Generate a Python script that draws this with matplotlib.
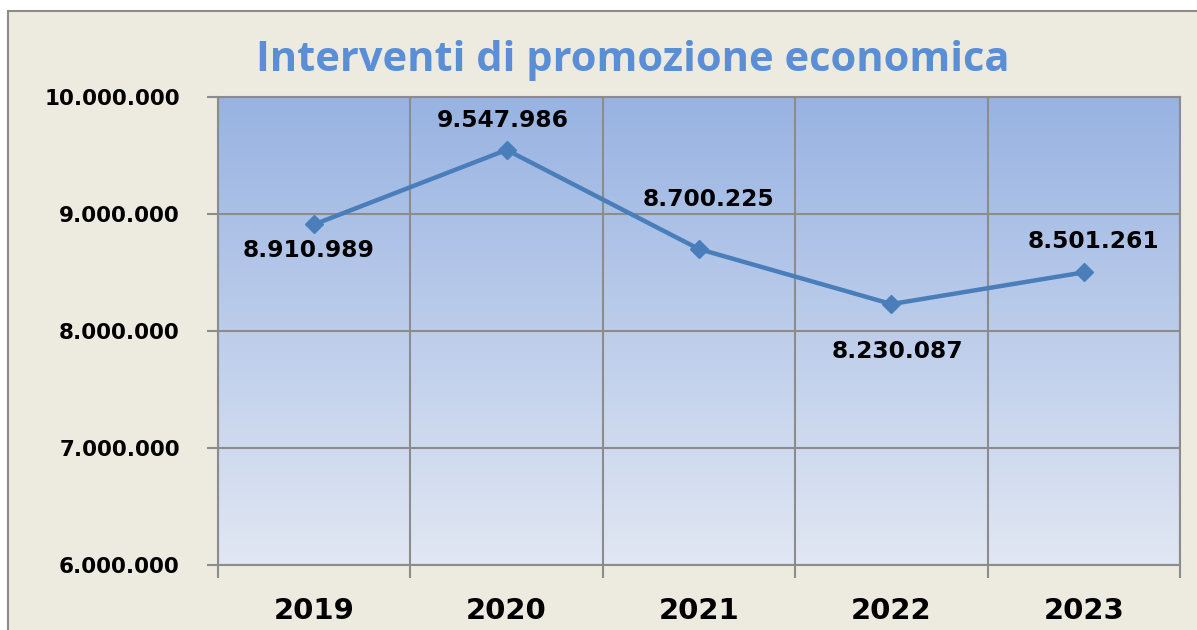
import matplotlib
matplotlib.use("Agg")
import matplotlib.pyplot as plt
import numpy as np
from matplotlib.patches import Rectangle
from matplotlib.ticker import FuncFormatter

years = ["2019", "2020", "2021", "2022", "2023"]
values = [8910989, 9547986, 8700225, 8230087, 8501261]
title = "Interventi di promozione economica"

# label offsets (points, baseline relative to the marker)
label_offsets = [(-4.3, -23.8), (-2.9, 16.6), (6.5, 31.0), (4.3, -38.9), (7.2, 17.3)]

plt.rcParams['font.family'] = ['DejaVu Sans']

fig = plt.figure(figsize=(11.97, 6.3), dpi=100, facecolor="white")
W, H = 1197, 630
# outer chart frame
fig.patches.append(Rectangle((8 / W, -0.1), 1.2, (H - 11) / H + 0.1, transform=fig.transFigure,
                             facecolor="#EDEAE0", edgecolor="#8C8C8C", linewidth=1.5, zorder=-5))

ax = fig.add_axes([218 / W, (H - 565) / H, (1180 - 218) / W, (565 - 97) / H])
ax.set_facecolor("none")
ax.set_zorder(2)

x = np.arange(len(years))
ax.set_xlim(-0.5, len(years) - 0.5)
ax.set_ylim(6000000, 10000000)

# gradient background
grad = np.linspace(0, 1, 256).reshape(-1, 1)
top = np.array([0x98, 0xB3, 0xE2]) / 255
bot = np.array([0xE1, 0xE7, 0xF3]) / 255
img = top[None, None, :] * (1 - grad[:, :, None]) + bot[None, None, :] * grad[:, :, None]
ax.imshow(img, extent=[-0.5, len(years) - 0.5, 6000000, 10000000], aspect="auto",
          origin="upper", zorder=0)

ax.set_yticks([6000000, 7000000, 8000000, 9000000, 10000000])
ax.yaxis.set_major_formatter(FuncFormatter(lambda v, p: f"{int(v):,}".replace(",", ".")))
ax.set_xticks(x)
ax.set_xticklabels(years)
ax.set_xticks(np.arange(-0.5, len(years), 1), minor=True)

ax.grid(True, axis="y", which="major", color="#8C8C8C", linewidth=1.5, zorder=1)
ax.grid(True, axis="x", which="minor", color="#8C8C8C", linewidth=1.5, zorder=1)
ax.tick_params(axis="x", which="major", length=0, pad=23, labelsize=21)
ax.tick_params(axis="x", which="minor", length=9, width=1.5, color="#8C8C8C")
ax.tick_params(axis="y", length=8, width=1.5, color="#8C8C8C", labelsize=15.5, pad=19.5)
for lab in ax.get_xticklabels() + ax.get_yticklabels():
    lab.set_fontweight("bold")
for s in ax.spines.values():
    s.set_color("#8C8C8C")
    s.set_linewidth(1.5)

ax.plot(x, values, color="#4A7EBB", linewidth=3.2, marker="D", markersize=9,
        markerfacecolor="#4A7EBB", markeredgecolor="#4A7EBB", zorder=3)

for xi, v, off in zip(x, values, label_offsets):
    txt = f"{v:,}".replace(",", ".")
    ax.annotate(txt, (xi, v), xytext=off, textcoords="offset points",
                ha="center", va="baseline", fontsize=16.8, fontweight="bold", color="black")

fig.text(633 / W, 1 - 71 / H, title, ha="center", va="baseline", fontsize=30,
         fontweight="bold", color="#5A8ED6", family=["Open Sans", "DejaVu Sans"])

fig.savefig("out.png", dpi=100, facecolor="white")
